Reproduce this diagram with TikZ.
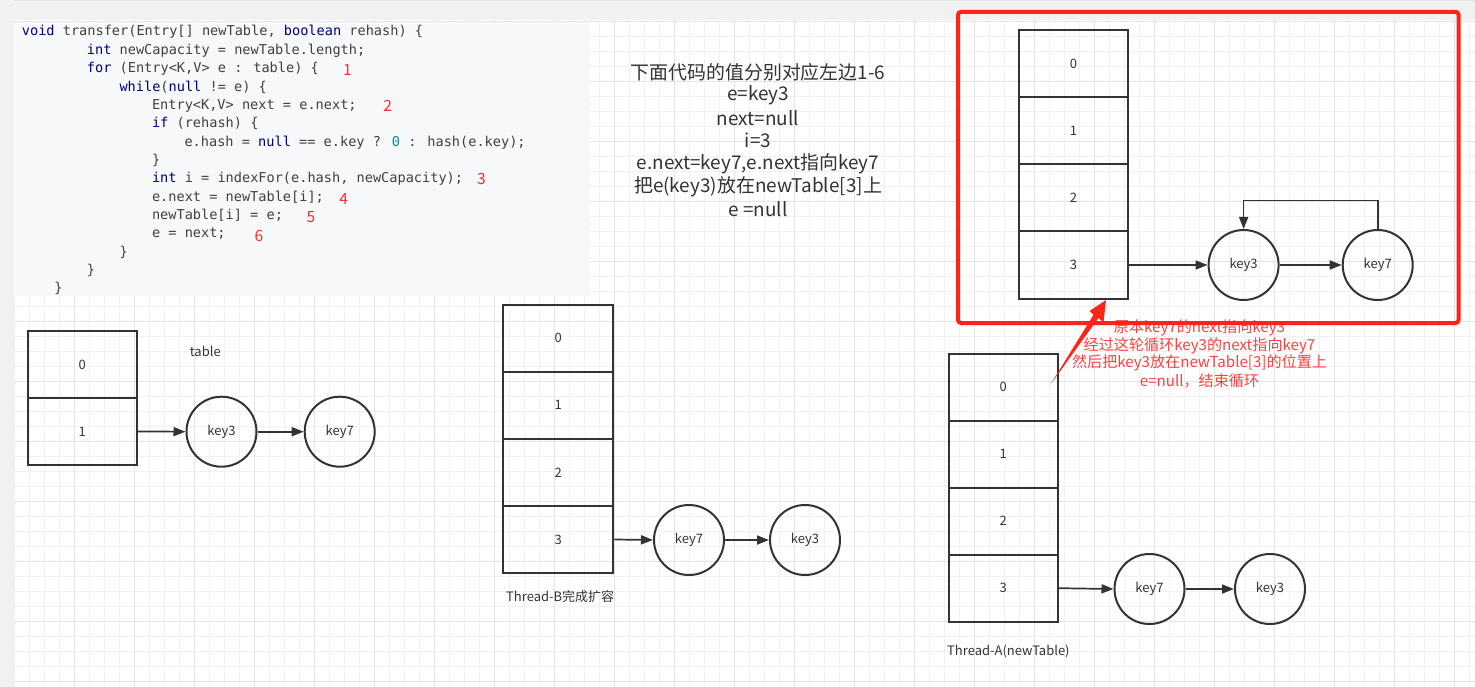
\documentclass[tikz,border=0pt]{standalone}
\usepackage{fontspec}
\setmainfont{Noto Sans CJK SC}
\newfontfamily\codefont{DejaVu Sans Mono}[WordSpace={1,0,0}]
\usetikzlibrary{arrows.meta}
\definecolor{ink}{HTML}{333333}
\definecolor{codetxt}{HTML}{404040}
\definecolor{kwc}{HTML}{00007F}
\definecolor{numc}{HTML}{098C8C}
\definecolor{redno}{HTML}{FF2A2A}
\definecolor{redbox}{HTML}{FF2418}
\definecolor{redtxt}{HTML}{FF4040}
\definecolor{gridmin}{HTML}{F1F1F1}
\definecolor{gridmaj}{HTML}{E3E3E3}
\definecolor{bandc}{HTML}{F1F1F1}
\definecolor{codebg}{HTML}{F6F8FA}
\newcommand{\kw}[1]{\textcolor{kwc}{#1}}
\newcommand{\nm}[1]{\textcolor{numc}{#1}}
\tikzset{
  cell/.style={draw=ink, line width=2pt, rectangle, minimum width=109pt, minimum height=67pt, inner sep=0pt, text=ink, font=\fontsize{13}{15}\selectfont},
  keynode/.style={draw=ink, line width=2pt, circle, minimum size=70pt, inner sep=0pt, text=ink, font=\fontsize{13}{15}\selectfont},
  arr/.style={draw=ink, line width=1.7pt, -{Triangle[length=12pt,width=9pt]}},
  codeline/.style={anchor=base west, inner sep=0pt, text=codetxt, font=\codefont\fontsize{13.6}{16}\selectfont},
  redno/.style={inner sep=0pt, text=redno, font=\fontsize{15.5}{17}\selectfont},
  midtxt/.style={inner sep=0pt, text=ink, font=\fontsize{18.9}{21}\selectfont},
  redann/.style={inner sep=0pt, text=redtxt, font=\fontsize{15.1}{17}\selectfont},
  lbl/.style={inner sep=0pt, text=ink, font=\fontsize{13}{15}\selectfont},
}
\begin{document}
\begin{tikzpicture}[x=1pt,y=-1pt]
\useasboundingbox (0,0) rectangle (1475,687);
\fill[white] (0,0) rectangle (1475,687);
% grid
\foreach \i in {0,...,97} \draw[gridmin, line width=1pt] ({14.7+15*\i},20) -- ({14.7+15*\i},687);
\foreach \j in {0,...,44} \draw[gridmin, line width=1pt] (14,{21.3+15*\j}) -- (1475,{21.3+15*\j});
\foreach \i in {0,...,23} \draw[gridmaj, line width=1pt] ({74.7+60*\i},20) -- ({74.7+60*\i},687);
\foreach \j in {0,...,11} \draw[gridmaj, line width=1pt] (14,{21.3+60*\j}) -- (1475,{21.3+60*\j});
% bands
\fill[bandc] (0,0) rectangle (1475,20.5);
\draw[gridmaj, line width=1pt] (0,0.5) -- (1475,0.5);
\fill[bandc] (0,0) rectangle (14,687);
% code box
\fill[codebg] (14,22) rectangle (590,295.5);
\node[codeline] (c1) at (21.7,36) {\kw{void} transfer(Entry[] newTable, \kw{boolean} rehash) \{};
\node[codeline] (c2) at (86.7,54.35) {\kw{int} newCapacity = newTable.length;};
\node[codeline] (c3) at (86.7,72.7) {\kw{for} (Entry<K,V> e : table) \{};
\node[codeline] (c4) at (119.3,91.05) {\kw{while}(\kw{null} != e) \{};
\node[codeline] (c5) at (151.8,109.4) {Entry<K,V> next = e.next;};
\node[codeline] (c6) at (151.8,127.75) {\kw{if} (rehash) \{};
\node[codeline] (c7) at (184.3,146.1) {e.hash = \kw{null} == e.key ? \nm{0} : hash(e.key);};
\node[codeline] (c8) at (151.8,164.45) {\}};
\node[codeline] (c9) at (151.8,182.8) {\kw{int} i = indexFor(e.hash, newCapacity);};
\node[codeline] (c10) at (151.8,201.15) {e.next = newTable[i];};
\node[codeline] (c11) at (151.8,219.5) {newTable[i] = e;};
\node[codeline] (c12) at (151.8,237.85) {e = next;};
\node[codeline] (c13) at (119.3,256.2) {\}};
\node[codeline] (c14) at (86.7,274.55) {\}};
\node[codeline] (c15) at (54.2,292.9) {\}};
\node[redno] (n1) at (347.5,69.5) {1};
\node[redno] (n2) at (387.7,106) {2};
\node[redno] (n3) at (481.4,179.3) {3};
\node[redno] (n4) at (343.7,198.5) {4};
\node[redno] (n5) at (310.8,216.8) {5};
\node[redno] (n6) at (259,236.2) {6};
% middle explanation
\node[midtxt] (m1) at (758,72) {下面代码的值分别对应左边1-6};
\node[midtxt] (m2) at (758,95.5) {e=key3};
\node[midtxt] (m3) at (758,118) {next=null};
\node[midtxt] (m4) at (758,140.5) {i=3};
\node[midtxt] (m5) at (758,163.5) {e.next=key7,e.next指向key7};
\node[midtxt] (m6) at (758,186.5) {把e(key3)放在newTable[3]上};
\node[midtxt] (m7) at (758,209) {e =null};
% left table
\node[cell] (lt0) at (82.2,364.4) {0};
\node[cell] (lt1) at (82.2,431.4) {1};
\node[lbl] (ltl) at (205.3,351.7) {table};
\node[keynode] (lk3) at (221.5,431.7) {key3};
\node[keynode] (lk7) at (339.7,431.7) {key7};
\draw[arr] (lt1.east) -- (lk3.west);
\draw[arr] (lk3.east) -- (lk7.west);
% middle table (Thread-B)
\node[cell, minimum width=110pt] (mt0) at (558.3,338) {0};
\node[cell, minimum width=110pt] (mt1) at (558.3,405.2) {1};
\node[cell, minimum width=110pt] (mt2) at (558.3,472.4) {2};
\node[cell, minimum width=110pt] (mt3) at (558.3,539.5) {3};
\node[keynode] (mk7) at (689,540) {key7};
\node[keynode] (mk3) at (805,540) {key3};
\draw[arr] (mt3.east) -- (mk7.west);
\draw[arr] (mk7.east) -- (mk3.west);
\node[lbl, anchor=west] (mtl) at (506,597) {Thread-B完成扩容};
% bottom right table (Thread-A)
\node[cell] (at0) at (1003.3,387.2) {0};
\node[cell] (at1) at (1003.3,454.2) {1};
\node[cell] (at2) at (1003.3,521.2) {2};
\node[cell] (at3) at (1003.3,588.2) {3};
\node[keynode] (ak7) at (1149.5,589) {key7};
\node[keynode] (ak3) at (1270,589) {key3};
\draw[arr] (at3.east) -- (ak7.west);
\draw[arr] (ak7.east) -- (ak3.west);
\node[lbl, anchor=west] (atl) at (947,651.7) {Thread-A(newTable)};
% top right table in red box
\node[cell] (rt0) at (1073.5,64) {0};
\node[cell] (rt1) at (1073.5,131) {1};
\node[cell] (rt2) at (1073.5,198) {2};
\node[cell] (rt3) at (1073.5,265) {3};
\node[keynode] (rk3) at (1243.6,265) {key3};
\node[keynode] (rk7) at (1377.7,265) {key7};
\draw[arr] (rt3.east) -- (rk3.west);
\draw[arr] (rk3.east) -- (rk7.west);
\draw[arr] (rk7.north) -- (1377.7,200.5) -| (rk3.north);
% red annotation text
\node[redann] (r1) at (1199.5,328.3) {原本key7的next指向key3};
\node[redann] (r2) at (1199.5,345.5) {经过这轮循环key3的next指向key7};
\node[redann] (r3) at (1199.5,363.3) {然后把key3放在newTable[3]的位置上};
\node[redann] (r4) at (1199.5,380.5) {e=null，结束循环};
% red box
\draw[redbox, line width=4pt, rounded corners=3pt] (958,11.8) rectangle (1458.5,323);
% red arrow
\coordinate (rtail) at (1050.5,384.5);
\coordinate (rtip) at (1106,300);
\fill[redbox] (rtail) -- (1093.5,314.8) -- (1089.5,311) -- (rtip) -- (1103.5,322.5) -- (1098.5,318) -- cycle;
\end{tikzpicture}
\end{document}
